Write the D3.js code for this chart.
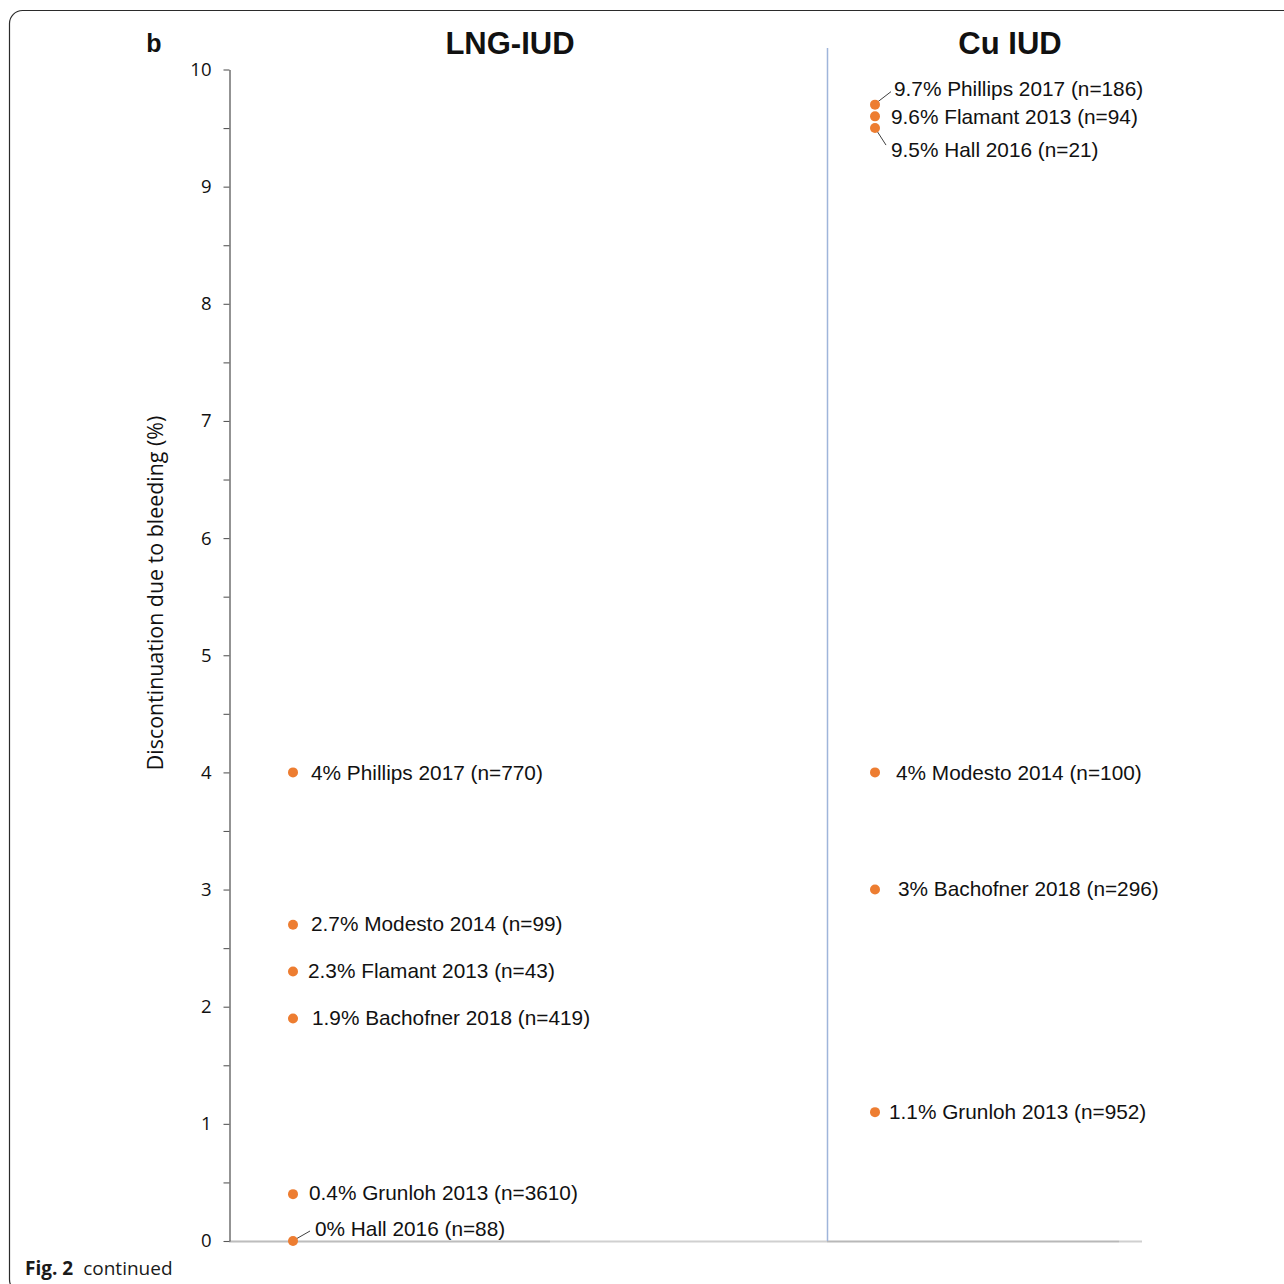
<!DOCTYPE html>
<html>
<head>
<meta charset="utf-8">
<script src="https://cdn.jsdelivr.net/npm/d3@7"></script>
<style>
  html, body { margin: 0; padding: 0; background: #fff; }
  svg { display: block; }
</style>
</head>
<body>
<svg id="chart" width="1284" height="1284"></svg>
<script>
// Discontinuation due to bleeding (%) by device and study
const groups = ["LNG-IUD", "Cu IUD"];

const lngStudies = ["Phillips 2017 (n=770)", "Modesto 2014 (n=99)", "Flamant 2013 (n=43)",
                    "Bachofner 2018 (n=419)", "Grunloh 2013 (n=3610)", "Hall 2016 (n=88)"];
const lngValues  = [4, 2.7, 2.3, 1.9, 0.4, 0];

const cuStudies = ["Phillips 2017 (n=186)", "Flamant 2013 (n=94)", "Hall 2016 (n=21)",
                   "Modesto 2014 (n=100)", "Bachofner 2018 (n=296)", "Grunloh 2013 (n=952)"];
const cuValues  = [9.7, 9.6, 9.5, 4, 3, 1.1];

const yTicks = [0, 1, 2, 3, 4, 5, 6, 7, 8, 9, 10];
const yTitle = "Discontinuation due to bleeding (%)";

// Label placement nudges (px) relative to each dot; `lead` draws a connector.
const labelNudge = {
  "LNG-IUD|Phillips 2017 (n=770)":  { dx: 18, dy: 0 },
  "LNG-IUD|Modesto 2014 (n=99)":    { dx: 18, dy: -1 },
  "LNG-IUD|Flamant 2013 (n=43)":    { dx: 15, dy: -1 },
  "LNG-IUD|Bachofner 2018 (n=419)": { dx: 19, dy: -1 },
  "LNG-IUD|Grunloh 2013 (n=3610)":  { dx: 16, dy: -1 },
  "LNG-IUD|Hall 2016 (n=88)":       { dx: 22, dy: -12, lead: [3, -2, 17, -10] },
  "Cu IUD|Phillips 2017 (n=186)":   { dx: 19, dy: -16, lead: [3, -3, 16, -13] },
  "Cu IUD|Flamant 2013 (n=94)":     { dx: 16, dy: 0 },
  "Cu IUD|Hall 2016 (n=21)":        { dx: 16, dy: 22, lead: [2, 3, 11, 17] },
  "Cu IUD|Modesto 2014 (n=100)":    { dx: 21, dy: 0 },
  "Cu IUD|Bachofner 2018 (n=296)":  { dx: 23, dy: -1 },
  "Cu IUD|Grunloh 2013 (n=952)":    { dx: 14, dy: 0 }
};

const points = [
  ...lngStudies.map((s, i) => ({ group: groups[0], study: s, value: lngValues[i] })),
  ...cuStudies.map((s, i) => ({ group: groups[1], study: s, value: cuValues[i] }))
];

const svg = d3.select("#chart");
const ORANGE = "#ED7D31";
const LABEL_FONT = "'Liberation Sans', Arial, sans-serif";
const AXIS_FONT = "'Open Sans', 'Noto Sans', sans-serif";

// Panel frame with rounded corners running off the right/bottom edge
svg.append("rect")
  .attr("x", 9.5).attr("y", 10.5)
  .attr("width", 1320).attr("height", 1282)
  .attr("rx", 13).attr("ry", 13)
  .attr("fill", "none").attr("stroke", "#2b2b2b").attr("stroke-width", 1.2);

const axisX = 229;
const y = d3.scaleLinear().domain([0, 10]).range([1241, 69.5]);
const x = d3.scalePoint().domain(groups).range([293, 875]);

// Baseline
svg.append("line")
  .attr("x1", axisX).attr("x2", 1142)
  .attr("y1", y(0) + 0.5).attr("y2", y(0) + 0.5)
  .attr("stroke", "#d0d0d0").attr("stroke-width", 2);
svg.append("line")
  .attr("x1", axisX).attr("x2", 550)
  .attr("y1", y(0) + 0.5).attr("y2", y(0) + 0.5)
  .attr("stroke", "#bdbdbd").attr("stroke-width", 1.5);
svg.append("line")
  .attr("x1", 827).attr("x2", 1119)
  .attr("y1", y(0) + 0.5).attr("y2", y(0) + 0.5)
  .attr("stroke", "#b8b8b8").attr("stroke-width", 1.5);

// Separator between the two devices
svg.append("line")
  .attr("x1", 827.5).attr("x2", 827.5)
  .attr("y1", 48).attr("y2", y(0))
  .attr("stroke", "#9fb5da").attr("stroke-width", 1.5);

// Y axis with half-unit minor ticks
const allTicks = d3.range(0, 10.01, 0.5);
const yAxis = d3.axisLeft(y)
  .tickValues(allTicks)
  .tickSize(6)
  .tickSizeOuter(0)
  .tickFormat(d => yTicks.includes(d) ? String(d) : "");
const gy = svg.append("g")
  .attr("transform", `translate(${axisX + 0.5},0)`)
  .call(yAxis);
gy.select(".domain").attr("stroke", "#595959").attr("stroke-width", 1.3);
gy.selectAll(".tick line").attr("stroke", "#595959").attr("stroke-width", 1.1);
gy.selectAll(".tick text")
  .attr("x", -18)
  .attr("fill", "#111")
  .style("font-family", AXIS_FONT)
  .style("font-size", "18.5px");

// Y axis title
svg.append("text")
  .attr("transform", `translate(163,593) rotate(-90)`)
  .attr("text-anchor", "middle")
  .attr("fill", "#111")
  .style("font-family", AXIS_FONT)
  .style("font-size", "21.4px")
  .text(yTitle);

// Device headings and panel letter
const titleX = { "LNG-IUD": 510, "Cu IUD": 1010 };
svg.selectAll("text.group-title")
  .data(groups)
  .join("text")
  .attr("class", "group-title")
  .attr("x", d => titleX[d])
  .attr("y", 54)
  .attr("text-anchor", "middle")
  .attr("fill", "#111")
  .style("font-family", LABEL_FONT)
  .style("font-weight", "bold")
  .style("font-size", "31px")
  .text(d => d);

svg.append("text")
  .attr("x", 154).attr("y", 52)
  .attr("text-anchor", "middle")
  .attr("fill", "#111")
  .style("font-family", LABEL_FONT)
  .style("font-weight", "bold")
  .style("font-size", "25px")
  .text("b");

// Connectors for crowded labels
const nudge = d => labelNudge[`${d.group}|${d.study}`] || { dx: 18, dy: 0 };
svg.selectAll("line.leader")
  .data(points.filter(d => nudge(d).lead))
  .join("line")
  .attr("class", "leader")
  .attr("x1", d => x(d.group) + nudge(d).lead[0])
  .attr("y1", d => y(d.value) + nudge(d).lead[1])
  .attr("x2", d => x(d.group) + nudge(d).lead[2])
  .attr("y2", d => y(d.value) + nudge(d).lead[3])
  .attr("stroke", "#404040").attr("stroke-width", 1);

// Study points
svg.selectAll("circle.pt")
  .data(points)
  .join("circle")
  .attr("class", "pt")
  .attr("cx", d => x(d.group))
  .attr("cy", d => y(d.value))
  .attr("r", 5)
  .attr("fill", ORANGE);

// Point labels
svg.selectAll("text.pt-label")
  .data(points)
  .join("text")
  .attr("class", "pt-label")
  .attr("x", d => x(d.group) + nudge(d).dx)
  .attr("y", d => y(d.value) + nudge(d).dy)
  .attr("dy", "0.35em")
  .attr("fill", "#111")
  .style("font-family", LABEL_FONT)
  .style("font-size", "20.8px")
  .text(d => `${d.value}% ${d.study}`);

// Figure caption
const cap = svg.append("text")
  .attr("x", 25).attr("y", 1275)
  .attr("fill", "#1a1a1a")
  .style("font-family", AXIS_FONT)
  .style("font-size", "19px");
cap.append("tspan").style("font-weight", "bold").text("Fig. 2");
cap.append("tspan").attr("dx", 10).text("continued");
</script>
</body>
</html>
